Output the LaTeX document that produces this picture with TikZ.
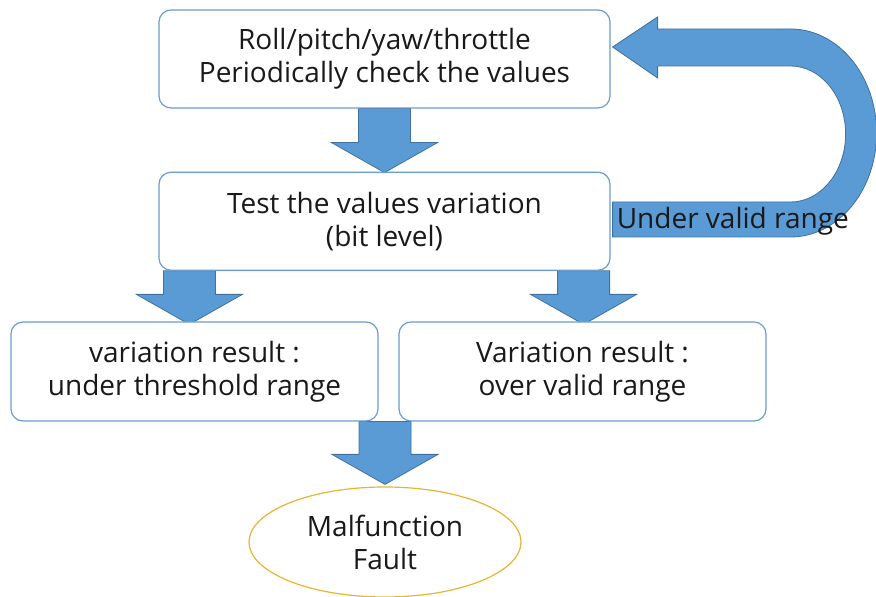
\documentclass[tikz,border=0pt]{standalone}
\usepackage{fontspec}
\setmainfont{Open Sans}
\usepackage{xcolor}
\definecolor{flowblue}{HTML}{5B9BD5}
\definecolor{flowedge}{HTML}{41719C}
\definecolor{boxline}{HTML}{6A9CD0}
\definecolor{faultgold}{HTML}{E6B630}
\usetikzlibrary{positioning,shapes.geometric,calc,backgrounds}
\tikzset{
  fb/.style={draw=boxline, fill=white, rounded corners=12pt, align=center,
             line width=1.2pt, font=\fontsize{28}{33}\selectfont,
             text=black!90, inner sep=0pt},
  fmain/.style={fb, minimum width=451pt, minimum height=98pt},
  fres/.style={fb, minimum width=367pt, minimum height=99pt},
  fend/.style={fb, ellipse, sharp corners, draw=faultgold, minimum width=272pt,
               minimum height=110pt},
  blockar/.style={fill=flowblue, draw=flowedge, line width=0.8pt, line join=miter},
  lbl/.style={font=\fontsize{28}{33}\selectfont, text=black!90, inner sep=0pt},
}
% fat downward arrow from #1 to tip #2
\newcommand{\blockdown}[2]{%
  \draw[blockar] ($(#1)+(-26,0)$) -- ($(#2)+(-26,30)$) -- ($(#2)+(-53,30)$)
    -- (#2) -- ($(#2)+(53,30)$) -- ($(#2)+(26,30)$) -- ($(#1)+(26,0)$) -- cycle;}

\begin{document}
\begin{tikzpicture}[x=1pt, y=1pt]
  \useasboundingbox (0,0) rectangle (876,597);
  \node[fmain] (check) at (384.5,538) {Roll/pitch/yaw/throttle\\Periodically check the values};
  \node[fmain, below=63pt of check] (test) {Test the values variation\\(bit level)};
  \node[fres] (under) at (194.5,225.5) {variation result :\\under threshold range};
  \node[fres] (over) at (582.5,225.5) {Variation result :\\over valid range};
  \node[fend] (fault) at (385,55) {Malfunction\\Fault};

  \coordinate (d1s) at (check.south);
  \coordinate (d1t) at ($(test.north)+(0,-1)$);
  \coordinate (d2s) at ($(test.south west)+(31,0)$);
  \coordinate (d2t) at ($(d2s |- under.north)+(0,-3)$);
  \coordinate (d3s) at ($(test.south east)+(-27,0)$);
  \coordinate (d3t) at ($(d3s |- over.north)+(0,-3)$);
  \coordinate (d4s) at (fault.north |- under.south);
  \coordinate (d4t) at ($(fault.north)+(0,2)$);
  \coordinate (uin) at ($(check.east)+(2,12)$);

  \begin{scope}[on background layer]
    \blockdown{d1s}{d1t}
    \blockdown{d2s}{d2t}
    \blockdown{d3s}{d3t}
    \blockdown{d4s}{d4t}
    % loop back to the top box
    \draw[blockar] (uin) -- ++(45,30) -- ++(0,-12) -- ++(133,0)
      arc[start angle=90, end angle=-90, x radius=86, y radius=104]
      -- ++(-178,0) -- ++(0,35) -- ++(178,0)
      arc[start angle=-90, end angle=90, x radius=55, y radius=68]
      -- ++(-133,0) -- ++(0,-12) -- cycle;
  \end{scope}

  \node[lbl, right=6pt of test] (uvr) {Under valid range};
\end{tikzpicture}
\end{document}
